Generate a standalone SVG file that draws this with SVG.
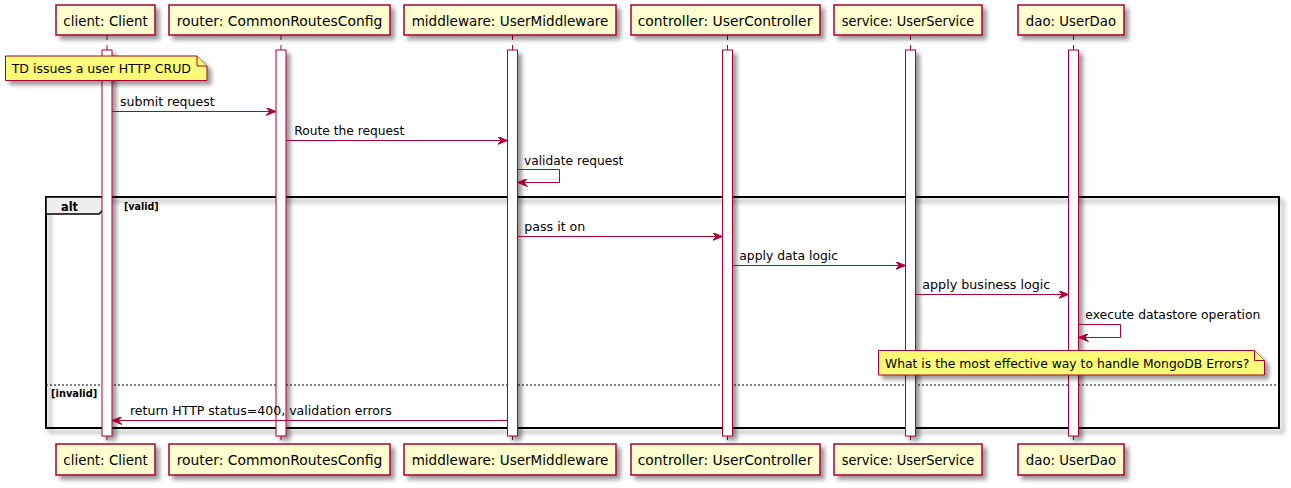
<svg xmlns="http://www.w3.org/2000/svg" width="1291" height="488" viewBox="0 0 1291 488">
<style>
.bg{fill:#FFFFFF}
.pbox{fill:#FEFECE;stroke:#A80036;stroke-width:1.5}
.ptxt{font-family:"DejaVu Sans","Liberation Sans",sans-serif;font-size:14.5px;fill:#000000}
.life{stroke:#A80036;stroke-width:1;stroke-dasharray:5,5}
.act{fill:#FFFFFF;stroke:#A80036;stroke-width:1}
.msg{stroke:#A80036;stroke-width:1;fill:none}
.mtxt{font-family:"DejaVu Sans","Liberation Sans",sans-serif;font-size:12.5px;fill:#000000}
.note{fill:#FBFB77;stroke:#A80036;stroke-width:1}
.frame{fill:none;stroke:#000000;stroke-width:2}
.tab{fill:#EEEEEE;stroke:#000000;stroke-width:1.5}
.sep{stroke:#000000;stroke-width:1;stroke-dasharray:2,2}
.ftxt{font-family:"DejaVu Sans","Liberation Sans",sans-serif;font-weight:bold;fill:#000000}
</style>
<defs>
<filter id="sh" filterUnits="userSpaceOnUse" x="0" y="0" width="1291" height="488">
<feGaussianBlur in="SourceAlpha" stdDeviation="2" result="b"/>
<feColorMatrix in="b" type="matrix" values="0 0 0 0 0  0 0 0 0 0  0 0 0 0 0  0 0 0 0.4 0" result="c"/>
<feOffset in="c" dx="4" dy="4" result="o"/>
<feMerge><feMergeNode in="o"/><feMergeNode in="SourceGraphic"/></feMerge>
</filter>
<marker id="ah" viewBox="0 0 10 8" refX="10" refY="4" markerWidth="10" markerHeight="8" markerUnits="userSpaceOnUse" orient="auto">
<polygon points="0,0 10,4 0,8 4,4" fill="#A80036" stroke="#A80036" stroke-width="1"/>
</marker>
</defs>
<rect class="bg" x="0" y="0" width="1291" height="488"/>

<g id="alt-frame">
<rect class="frame" x="46" y="197" width="1233" height="231" filter="url(#sh)"/>
<polygon class="tab" points="46,197 109,197 109,204 99,214 46,214"/>
<text class="ftxt" x="61" y="211" font-size="13px" textLength="17" lengthAdjust="spacingAndGlyphs">alt</text>
<text class="ftxt" x="124" y="210" font-size="11px" textLength="34.6" lengthAdjust="spacingAndGlyphs">[valid]</text>
<line class="sep" x1="46" y1="385" x2="1279" y2="385"/>
<text class="ftxt" x="51" y="396.5" font-size="11px" textLength="46.3" lengthAdjust="spacingAndGlyphs">[invalid]</text>
</g>

<g id="client">
<line class="life" x1="107" y1="35" x2="107" y2="444"/>
<rect class="act" x="102" y="50" width="10" height="386" filter="url(#sh)"/>
<rect class="pbox" x="56" y="5" width="99" height="30" filter="url(#sh)"/>
<text class="ptxt" x="105.5" y="26" text-anchor="middle" textLength="84.3" lengthAdjust="spacingAndGlyphs">client: Client</text>
<rect class="pbox" x="56" y="444" width="99" height="31" filter="url(#sh)"/>
<text class="ptxt" x="105.5" y="465" text-anchor="middle" textLength="84.3" lengthAdjust="spacingAndGlyphs">client: Client</text>
</g>

<g id="router">
<line class="life" x1="281" y1="35" x2="281" y2="444"/>
<rect class="act" x="276" y="50" width="10" height="386" filter="url(#sh)"/>
<rect class="pbox" x="169" y="5" width="221" height="30" filter="url(#sh)"/>
<text class="ptxt" x="279.5" y="26" text-anchor="middle" textLength="205.7" lengthAdjust="spacingAndGlyphs">router: CommonRoutesConfig</text>
<rect class="pbox" x="169" y="444" width="221" height="31" filter="url(#sh)"/>
<text class="ptxt" x="279.5" y="465" text-anchor="middle" textLength="205.7" lengthAdjust="spacingAndGlyphs">router: CommonRoutesConfig</text>
</g>

<g id="middleware">
<line class="life" x1="512.5" y1="35" x2="512.5" y2="444"/>
<rect class="act" x="507.5" y="50" width="10" height="386" filter="url(#sh)"/>
<rect class="pbox" x="404" y="5" width="212" height="30" filter="url(#sh)"/>
<text class="ptxt" x="510" y="26" text-anchor="middle" textLength="196.7" lengthAdjust="spacingAndGlyphs">middleware: UserMiddleware</text>
<rect class="pbox" x="404" y="444" width="212" height="31" filter="url(#sh)"/>
<text class="ptxt" x="510" y="465" text-anchor="middle" textLength="196.7" lengthAdjust="spacingAndGlyphs">middleware: UserMiddleware</text>
</g>

<g id="controller">
<line class="life" x1="727.5" y1="35" x2="727.5" y2="444"/>
<rect class="act" x="722.5" y="50" width="10" height="386" filter="url(#sh)"/>
<rect class="pbox" x="631" y="5" width="189" height="30" filter="url(#sh)"/>
<text class="ptxt" x="725" y="26" text-anchor="middle" textLength="174.7" lengthAdjust="spacingAndGlyphs">controller: UserController</text>
<rect class="pbox" x="631" y="444" width="189" height="31" filter="url(#sh)"/>
<text class="ptxt" x="725" y="465" text-anchor="middle" textLength="174.7" lengthAdjust="spacingAndGlyphs">controller: UserController</text>
</g>

<g id="service">
<line class="life" x1="910.5" y1="35" x2="910.5" y2="444"/>
<rect class="act" x="905.5" y="50" width="10" height="386" filter="url(#sh)"/>
<rect class="pbox" x="834" y="5" width="148" height="30" filter="url(#sh)"/>
<text class="ptxt" x="908" y="26" text-anchor="middle" textLength="132.7" lengthAdjust="spacingAndGlyphs">service: UserService</text>
<rect class="pbox" x="834" y="444" width="148" height="31" filter="url(#sh)"/>
<text class="ptxt" x="908" y="465" text-anchor="middle" textLength="132.7" lengthAdjust="spacingAndGlyphs">service: UserService</text>
</g>

<g id="dao">
<line class="life" x1="1073.5" y1="35" x2="1073.5" y2="444"/>
<rect class="act" x="1068.5" y="50" width="10" height="386" filter="url(#sh)"/>
<rect class="pbox" x="1018" y="5" width="106" height="30" filter="url(#sh)"/>
<text class="ptxt" x="1071" y="26" text-anchor="middle" textLength="90.3" lengthAdjust="spacingAndGlyphs">dao: UserDao</text>
<rect class="pbox" x="1018" y="444" width="106" height="31" filter="url(#sh)"/>
<text class="ptxt" x="1071" y="465" text-anchor="middle" textLength="90.3" lengthAdjust="spacingAndGlyphs">dao: UserDao</text>
</g>

<g id="connectors">
<line class="msg" x1="112" y1="111.5" x2="276" y2="111.5" marker-end="url(#ah)"/>
<text class="mtxt" x="120" y="106" textLength="94.7" lengthAdjust="spacingAndGlyphs">submit request</text>
<line class="msg" x1="286" y1="140.5" x2="507.5" y2="140.5" marker-end="url(#ah)"/>
<text class="mtxt" x="294.3" y="135" textLength="110" lengthAdjust="spacingAndGlyphs">Route the request</text>
<polyline class="msg" points="517.5,169.5 559.5,169.5 559.5,182.5 517.5,182.5" marker-end="url(#ah)"/>
<text class="mtxt" x="524" y="164.5" textLength="99.3" lengthAdjust="spacingAndGlyphs">validate request</text>
<line class="msg" x1="517.5" y1="236.5" x2="722.5" y2="236.5" marker-end="url(#ah)"/>
<text class="mtxt" x="524.3" y="231" textLength="61" lengthAdjust="spacingAndGlyphs">pass it on</text>
<line class="msg" x1="732.5" y1="265.5" x2="905.5" y2="265.5" marker-end="url(#ah)"/>
<text class="mtxt" x="739.3" y="260" textLength="98.7" lengthAdjust="spacingAndGlyphs">apply data logic</text>
<line class="msg" x1="915.5" y1="294.5" x2="1068.5" y2="294.5" marker-end="url(#ah)"/>
<text class="mtxt" x="922.3" y="289" textLength="128" lengthAdjust="spacingAndGlyphs">apply business logic</text>
<polyline class="msg" points="1078.5,324.5 1120.5,324.5 1120.5,337.5 1078.5,337.5" marker-end="url(#ah)"/>
<text class="mtxt" x="1085.3" y="319" textLength="175" lengthAdjust="spacingAndGlyphs">execute datastore operation</text>
<line class="msg" x1="507.5" y1="420.5" x2="112" y2="420.5" marker-end="url(#ah)"/>
<text class="mtxt" x="130" y="415" textLength="261.7" lengthAdjust="spacingAndGlyphs">return HTTP status=400, validation errors</text>
</g>

<g id="note-crud">
<path class="note" d="M5.5,56 L197,56 L207,66 L207,80.5 L5.5,80.5 Z" filter="url(#sh)"/>
<path class="note" d="M197,56 L197,66 L207,66" fill="none"/>
<text class="mtxt" x="11.7" y="73.3" textLength="179.3" lengthAdjust="spacingAndGlyphs">TD issues a user HTTP CRUD</text>
</g>

<g id="note-mongo">
<path class="note" d="M878.5,350.5 L1254.5,350.5 L1264.5,360.5 L1264.5,375 L878.5,375 Z" filter="url(#sh)"/>
<path class="note" d="M1254.5,350.5 L1254.5,360.5 L1264.5,360.5" fill="none"/>
<text class="mtxt" x="885" y="367.5" textLength="364.3" lengthAdjust="spacingAndGlyphs">What is the most effective way to handle MongoDB Errors?</text>
</g>
</svg>
